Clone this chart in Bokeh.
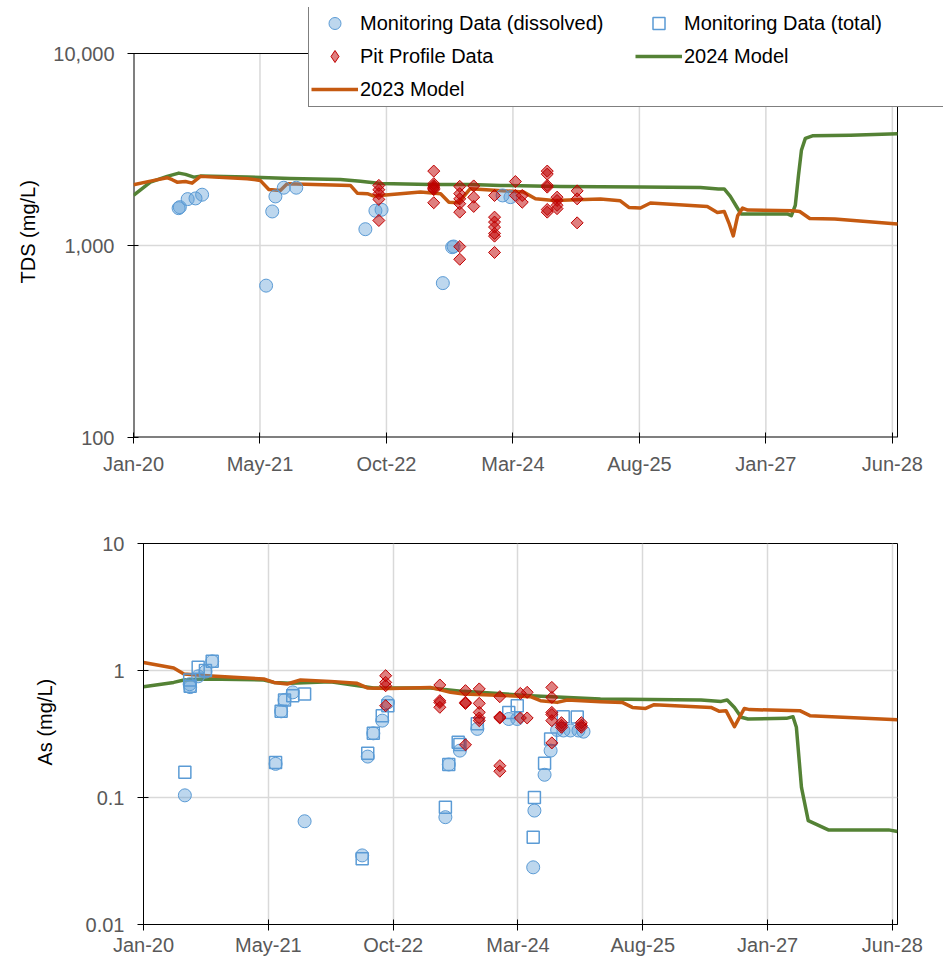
import numpy as np
import pandas as pd
from bokeh.plotting import figure
from bokeh.models import Range1d, FixedTicker, Legend, LegendItem, Title
from bokeh.embed import file_html
from bokeh.resources import INLINE

# ---------------- axis ticks ----------------
x_tick_dates = ["2020-01-01", "2021-05-31", "2022-10-29", "2024-03-28",
                "2025-08-26", "2027-01-24", "2028-06-23"]
x_tick_labels = ["Jan-20", "May-21", "Oct-22", "Mar-24", "Aug-25", "Jan-27", "Jun-28"]
x_start_date = "2020-01-01"
x_end_date = "2028-07-14"

tds_ticks = [100, 1000, 10000]
tds_tick_labels = ["100", "1,000", "10,000"]
as_ticks = [0.01, 0.1, 1, 10]
as_tick_labels = ["0.01", "0.1", "1", "10"]

# ---------------- TDS: monitoring data (dissolved) ----------------
tds_diss_dates = ["2020-07-03", "2020-07-08", "2020-08-09", "2020-09-10", "2020-10-07",
                  "2021-06-25", "2021-07-20", "2021-08-02", "2021-09-05", "2021-10-26",
                  "2022-08-04", "2022-09-14", "2022-10-09",
                  "2023-06-16", "2023-07-24", "2023-07-30",
                  "2024-02-15", "2024-03-18"]
tds_diss = [1565, 1584, 1744, 1759, 1839,
            618, 1504, 1801, 2000, 2000,
            1216, 1517, 1535,
            637, 980, 988,
            1823, 1786]

# ---------------- TDS: pit profile data ----------------
tds_pit_dates = (["2022-09-28"] * 5 + ["2023-05-10"] * 7 + ["2023-08-24"] * 7 +
                 ["2023-10-20"] * 3 + ["2024-01-13"] * 7 + ["2024-04-07"] * 2 +
                 ["2024-05-05"] * 2 + ["2024-08-15"] * 6 + ["2024-09-24"] * 4 +
                 ["2024-12-15"] * 3)
tds_pit = [2056, 1953, 1862, 1738, 1350,
           2441, 2099, 2050, 2014, 1980, 1953, 1670,
           2032, 1863, 1750, 1651, 1492, 987, 848,
           2043, 1785, 1598,
           1822, 1405, 1324, 1247, 1156, 1119, 920,
           2153, 1822,
           1822, 1681,
           2441, 2354, 2056, 2014, 1540, 1492,
           1785, 1716, 1619, 1556,
           1926, 1750, 1312]

# ---------------- TDS: models ----------------
tds_2024_dates = ["2020-01-01", "2020-03-10", "2020-05-17", "2020-07-04", "2020-07-31",
                  "2020-09-03", "2020-09-30", "2021-04-09", "2021-10-02", "2022-04-24",
                  "2022-07-15", "2022-10-05", "2023-04-27", "2023-10-07", "2024-02-06",
                  "2024-10-08", "2025-08-30", "2026-05-02", "2026-07-14", "2026-08-07",
                  "2026-09-01", "2026-09-26", "2026-10-15", "2027-04-24", "2027-05-08",
                  "2027-05-24", "2027-06-06", "2027-06-18", "2027-07-04", "2027-08-02",
                  "2028-01-04", "2028-07-14"]
tds_2024 = [1824, 2138, 2291, 2383, 2346,
            2271, 2298, 2271, 2236, 2209,
            2158, 2106, 2081, 2081, 2056,
            2032, 2019, 2007, 1971, 1971,
            1801, 1597, 1458, 1458, 1429,
            1618, 2317, 3131, 3614, 3725,
            3748, 3816]

tds_2023_dates = ["2020-01-01", "2020-03-10", "2020-05-17", "2020-06-07", "2020-06-27",
                  "2020-07-31", "2020-08-27", "2020-09-30", "2021-04-09", "2021-06-01",
                  "2021-07-06", "2021-08-22", "2021-09-19", "2022-06-04", "2022-07-02",
                  "2022-08-12", "2022-09-08", "2023-03-17", "2023-06-07", "2023-07-11",
                  "2023-08-19", "2023-10-06", "2024-05-11", "2024-06-28", "2024-09-11",
                  "2025-03-20", "2025-06-09", "2025-07-14", "2025-08-30", "2025-10-10",
                  "2026-05-30", "2026-07-10", "2026-08-07", "2026-08-28", "2026-09-13",
                  "2026-10-01", "2026-10-21", "2026-11-11", "2027-05-15", "2027-06-11",
                  "2027-07-22", "2027-11-01", "2028-07-14"]
tds_2023 = [2074, 2164, 2255, 2201, 2138,
            2156, 2113, 2291, 2228, 2183,
            1959, 1936, 2099, 2056, 1874,
            1862, 1808, 1897, 1862, 1681,
            1670, 1976, 1897, 1752, 1716,
            1746, 1710, 1578, 1567, 1664,
            1597, 1486, 1504, 1291, 1122,
            1429, 1567, 1530, 1517, 1504,
            1383, 1373, 1293]

# ---------------- As: monitoring data ----------------
as_diss_dates = ["2020-06-20", "2020-07-10", "2020-07-12", "2020-08-14", "2020-09-13", "2020-10-11",
                 "2021-06-30", "2021-07-23", "2021-08-06", "2021-09-09", "2021-10-28",
                 "2022-06-23", "2022-07-16", "2022-08-08", "2022-09-14", "2022-10-07",
                 "2023-06-02", "2023-06-16", "2023-08-01", "2023-10-12",
                 "2024-02-19", "2024-03-25", "2024-05-30", "2024-06-04", "2024-07-16",
                 "2024-08-10", "2024-09-06", "2024-10-02", "2024-10-31", "2024-12-03",
                 "2024-12-24"]
as_diss = [0.104, 0.78, 0.74, 0.90, 0.98, 1.18,
           0.184, 0.477, 0.586, 0.673, 0.065,
           0.035, 0.21, 0.32, 0.403, 0.561,
           0.070, 0.182, 0.234, 0.347,
           0.415, 0.415, 0.0282, 0.0789, 0.151,
           0.234, 0.34, 0.337, 0.337, 0.337,
           0.33]

as_tot_dates = ["2020-06-20", "2020-07-10", "2020-07-12", "2020-08-14", "2020-09-13", "2020-10-11",
                "2021-06-30", "2021-07-23", "2021-08-06", "2021-09-09", "2021-10-28",
                "2022-06-23", "2022-07-16", "2022-08-08", "2022-09-14", "2022-10-07",
                "2023-06-02", "2023-06-16", "2023-07-25", "2023-08-01", "2023-10-12",
                "2024-02-19", "2024-03-25", "2024-05-30", "2024-06-04", "2024-07-16",
                "2024-08-10", "2024-10-01", "2024-11-28"]
as_tot = [0.158, 0.84, 0.75, 1.06, 1.0, 1.18,
          0.189, 0.477, 0.586, 0.634, 0.653,
          0.033, 0.223, 0.32, 0.441, 0.528,
          0.0838, 0.182, 0.272, 0.261, 0.38,
          0.468, 0.528, 0.0486, 0.100, 0.186,
          0.289, 0.433, 0.43]

as_pit_dates = (["2022-09-28"] * 4 + ["2023-05-10"] * 4 + ["2023-08-24"] * 4 +
                ["2023-10-20"] * 5 + ["2024-01-13"] * 5 + ["2024-04-07"] * 2 +
                ["2024-05-05"] * 2 + ["2024-08-15"] * 6 + ["2024-09-24"] * 3 +
                ["2024-12-15"] * 3)
as_pit = [0.91, 0.806, 0.759, 0.528,
          0.769, 0.578, 0.56, 0.513,
          0.694, 0.561, 0.55, 0.26,
          0.716, 0.551, 0.468, 0.423, 0.403,
          0.622, 0.43, 0.423, 0.178, 0.161,
          0.66, 0.423,
          0.673, 0.423,
          0.736, 0.614, 0.468, 0.45, 0.403, 0.269,
          0.388, 0.357, 0.37,
          0.388, 0.357, 0.37]

# ---------------- As: models ----------------
as_2024_dates = ["2020-01-01", "2020-05-05", "2020-06-16", "2020-09-06", "2021-05-12",
                 "2021-06-23", "2021-08-31", "2022-02-12", "2022-08-09", "2023-04-01",
                 "2023-08-16", "2024-05-19", "2025-03-04", "2026-04-24", "2026-07-16",
                 "2026-08-10", "2026-09-09", "2026-10-07", "2026-11-04", "2027-04-12",
                 "2027-05-09", "2027-05-23", "2027-06-13", "2027-07-11", "2027-10-02",
                 "2028-06-07", "2028-07-14"]
as_2024 = [0.746, 0.806, 0.842, 0.857, 0.842,
           0.806, 0.792, 0.817, 0.729, 0.729,
           0.685, 0.634, 0.596, 0.586, 0.571,
           0.586, 0.512, 0.428, 0.415, 0.42,
           0.433, 0.357, 0.12, 0.0658, 0.0556,
           0.0556, 0.054]

as_2023_dates = ["2020-01-01", "2020-05-05", "2020-06-16", "2020-09-20", "2021-05-12",
                 "2021-06-23", "2021-08-17", "2021-10-11", "2022-02-12", "2022-06-02",
                 "2022-07-14", "2022-10-18", "2023-04-01", "2023-06-23", "2023-08-17",
                 "2024-05-19", "2024-06-29", "2024-09-06", "2024-10-18", "2025-03-04",
                 "2025-06-02", "2025-07-14", "2025-09-07", "2025-10-12", "2026-06-04",
                 "2026-07-09", "2026-08-05", "2026-09-09", "2026-10-20", "2026-11-10",
                 "2027-06-06", "2027-07-18", "2028-07-14"]
as_2023 = [1.158, 1.046, 0.939, 0.91, 0.857,
           0.806, 0.783, 0.842, 0.821, 0.792,
           0.729, 0.723, 0.736, 0.673, 0.653,
           0.622, 0.578, 0.561, 0.586, 0.568,
           0.561, 0.512, 0.503, 0.538, 0.512,
           0.477, 0.483, 0.361, 0.503, 0.492,
           0.483, 0.441, 0.41]

# ---------------- helpers ----------------
T0 = pd.Timestamp(x_start_date)


def d(dates):
    return [(pd.Timestamp(s) - T0).days for s in dates]


FONT = "Liberation Sans"
XT = d(x_tick_dates)
X_END = (pd.Timestamp(x_end_date) - T0).days

GREEN = "#548235"
ORANGE = "#C55A11"
BLUE = "#5B9BD5"
RED = "#C00000"
GRID = "#D9D9D9"


def style_axes(p, yticks, ylabels, ytitle, title_standoff, title_offset, xlabel_standoff):
    xt = FixedTicker(ticks=XT, minor_ticks=[])
    yt = FixedTicker(ticks=yticks, minor_ticks=[])
    p.xaxis.ticker = xt
    p.xgrid.ticker = xt
    p.yaxis.ticker = yt
    p.ygrid.ticker = yt
    p.xaxis.major_label_overrides = dict(zip(XT, x_tick_labels))
    p.yaxis.major_label_overrides = dict(zip(yticks, ylabels))
    p.axis.axis_line_color = "black"
    p.axis.axis_line_width = 1
    p.axis.major_tick_line_color = "black"
    p.axis.major_tick_in = 5
    p.axis.major_tick_out = 6
    p.axis.minor_tick_line_color = None
    p.axis.major_label_text_font = FONT
    p.axis.major_label_text_font_size = "20px"
    p.axis.major_label_text_color = "#595959"
    p.yaxis.major_label_standoff = 13
    p.xaxis.major_label_standoff = xlabel_standoff
    # y-axis title as a left-side title; it starts title_offset px above the
    # bottom of the plot area, as in the original
    p.add_layout(Title(text=ytitle, align="left", offset=title_offset,
                       standoff=title_standoff, text_font=FONT,
                       text_font_size="20px", text_font_style="normal",
                       text_color="black"), "left")
    p.grid.grid_line_color = GRID
    p.grid.grid_line_width = 1.5
    p.background_fill_color = "white"
    p.border_fill_color = "white"


# ---------------- top: TDS ----------------
# The legend overhangs the plot area (above and to the right), so the
# top figure's frame is enlarged to hold it and the plot box is drawn in.
T_LEFT, T_RIGHT, T_TOP, T_BOTTOM = 133, 897, 53, 437
LEG_TOP = 7
px_per_day = (T_RIGHT - T_LEFT) / X_END
x_max_top = X_END + (943 - T_RIGHT) / px_per_day
px_per_decade = (T_BOTTOM - T_TOP) / np.log10(tds_ticks[-1] / tds_ticks[0])
y_max_top = tds_ticks[-1] * 10 ** ((T_TOP - LEG_TOP) / px_per_decade)

p1 = figure(width=943, height=480, output_backend="svg", toolbar_location=None,
            x_range=Range1d(0, x_max_top), y_range=Range1d(tds_ticks[0], y_max_top),
            y_axis_type="log",
            min_border_left=T_LEFT, min_border_right=0,
            min_border_top=LEG_TOP, min_border_bottom=480 - T_BOTTOM)
style_axes(p1, tds_ticks, tds_tick_labels, "TDS (mg/L)", 24, 154, 9)
p1.outline_line_color = None
p1.axis.axis_line_color = None
p1.grid.visible = False

# grid lines limited to the plot box
vx = [t for t in XT if t > 0]
p1.segment(x0=vx, y0=[tds_ticks[0]] * len(vx), x1=vx, y1=[tds_ticks[-1]] * len(vx),
           line_color=GRID, line_width=1.5)
hy = tds_ticks[1:-1]
p1.segment(x0=[0] * len(hy), y0=hy, x1=[X_END] * len(hy), y1=hy,
           line_color=GRID, line_width=1.5)
# plot box
p1.line([0, 0], [tds_ticks[0], tds_ticks[-1]], line_color="black", line_width=2)
p1.line([0, X_END], [tds_ticks[0], tds_ticks[0]], line_color="black", line_width=2)
p1.line([0, X_END, X_END], [tds_ticks[-1], tds_ticks[-1], tds_ticks[0]],
        line_color="black", line_width=1)

l24 = p1.line(d(tds_2024_dates), tds_2024, line_color=GREEN, line_width=3.5, line_join="round")
l23 = p1.line(d(tds_2023_dates), tds_2023, line_color=ORANGE, line_width=3.5, line_join="round")
c1 = p1.scatter(d(tds_diss_dates), tds_diss, marker="circle", size=13,
                fill_color=BLUE, fill_alpha=0.4, line_color=BLUE, line_width=1)
# no total TDS series is plotted; a NaN point keeps its legend entry
s1 = p1.scatter([np.nan], [np.nan], marker="square", size=12, fill_color=None,
                line_color=BLUE, line_width=1.5)
p1.scatter(d(tds_pit_dates), tds_pit, marker="square", angle=np.pi / 4, size=8.5,
           fill_color=RED, fill_alpha=0.5, line_color=RED, line_width=1)
dleg = p1.scatter([np.nan], [np.nan], marker="diamond", size=12, fill_color=RED,
                  fill_alpha=0.5, line_color=RED, line_width=1)

legend = Legend(items=[
    LegendItem(label="Monitoring Data (dissolved)", renderers=[c1]),
    LegendItem(label="Monitoring Data (total)", renderers=[s1]),
    LegendItem(label="Pit Profile Data", renderers=[dleg]),
    LegendItem(label="2024 Model", renderers=[l24]),
    LegendItem(label="2023 Model", renderers=[l23]),
], location=(308 - T_LEFT, T_BOTTOM - 107), orientation="horizontal", ncols=2)
legend.label_text_font = FONT
legend.label_text_font_size = "20px"
legend.label_text_color = "black"
legend.glyph_width = 47
legend.glyph_height = 30
legend.label_height = 30
legend.label_width = 272
legend.label_standoff = 2
legend.spacing = 3
legend.padding = 2
legend.margin = 0
legend.border_line_color = "black"
legend.border_line_width = 1
legend.background_fill_color = "white"
legend.background_fill_alpha = 1
p1.add_layout(legend)

# ---------------- bottom: As ----------------
p2 = figure(width=943, height=480, output_backend="svg", toolbar_location=None,
            x_range=Range1d(0, X_END), y_range=Range1d(as_ticks[0], as_ticks[-1]),
            y_axis_type="log",
            min_border_left=143, min_border_right=46,
            min_border_top=63, min_border_bottom=36)
style_axes(p2, as_ticks, as_tick_labels, "As (mg/L)", 54, 159, 3)
p2.outline_line_color = "black"
p2.outline_line_width = 1

p2.line(d(as_2024_dates), as_2024, line_color=GREEN, line_width=3.5, line_join="round")
p2.line(d(as_2023_dates), as_2023, line_color=ORANGE, line_width=3.5, line_join="round")
p2.scatter(d(as_diss_dates), as_diss, marker="circle", size=13,
           fill_color=BLUE, fill_alpha=0.4, line_color=BLUE, line_width=1)
p2.scatter(d(as_tot_dates), as_tot, marker="square", size=12, fill_color=None,
           line_color=BLUE, line_width=1.5)
p2.scatter(d(as_pit_dates), as_pit, marker="square", angle=np.pi / 4, size=8.5,
           fill_color=RED, fill_alpha=0.5, line_color=RED, line_width=1)

open("out.html", "w").write(file_html([p1, p2], INLINE))
